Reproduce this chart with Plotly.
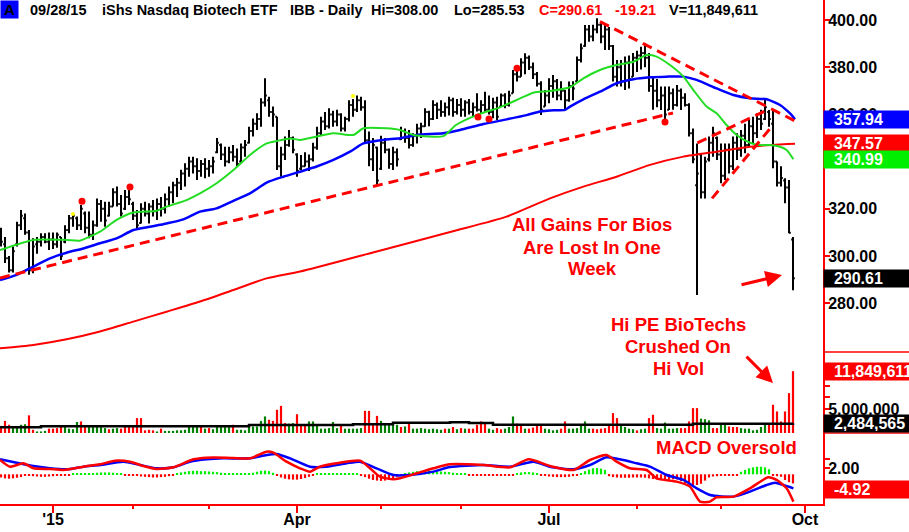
import plotly.graph_objects as go

# ---------------- data ----------------
start_idx = -13   # trading-day index of first bar (0 = Jan 2 2015)

opens = [310, 305, 299, 294, 305, 313, 316, 310, 295, 305,
         306, 308, 306, 307, 305, 308, 306, 311, 316, 316,
         313, 318, 312, 309, 313, 322, 320, 317, 321, 327,
         322, 320, 325, 322, 317, 314, 320, 318, 321, 319,
         322, 320, 324, 327, 330, 331, 335, 337, 340, 338,
         336, 339, 337, 338, 344, 347, 343, 340, 344, 342,
         340, 346, 348, 353, 356, 358, 365, 366, 361, 359,
         338, 343, 347, 350, 343, 337, 338, 340, 341, 346,
         352, 357, 355, 360, 357, 360, 354, 358, 364, 362,
         366, 363, 349, 341, 346, 337, 348, 345, 339, 344,
         349.5, 353, 350, 347, 351, 354, 355, 361, 358, 364,
         362, 361, 363, 366, 361, 364, 362, 365, 361, 363,
         362, 364, 362, 361, 365, 363.3, 368, 364, 369, 377,
         376, 382, 384, 380, 377, 373, 363.3, 368, 372, 374,
         368, 370, 366, 372, 374, 383, 389, 396, 393, 396,
         398, 393, 396, 389, 376, 380, 374, 382, 376, 384,
         385, 386, 384, 372, 370, 366, 368, 362, 369, 364,
         370, 367, 364, 352, 330, 343, 327, 341, 348, 350,
         343, 334, 345, 338, 348, 345, 351, 347, 355, 352,
         358, 358, 361, 356, 340, 331, 332, 329, 307]

highs = [312, 308, 300, 304, 314.5, 319.5, 318, 311, 307.5, 308,
         309.6, 309.6, 310, 310, 310, 308, 313, 317.4, 318, 316.7,
         321.6, 318.8, 318.8, 315, 324.4, 323.7, 323, 323, 328.7, 329.4,
         325.8, 328, 328.7, 323, 319.5, 322.3, 323, 322.3, 323.7, 324.4,
         325, 326.5, 329.4, 331.5, 333, 336.5, 339.3, 342, 342, 341.4,
         340.7, 341.4, 340.7, 342, 350, 347.7, 346.3, 346.3, 347, 345.6,
         347.7, 349.2, 354.8, 358.3, 360.5, 366.8, 375.3, 367.5, 363.3, 359,
         346.3, 350.6, 353.4, 350.6, 343.5, 342.8, 344, 343, 348, 354.8,
         359, 361, 362.6, 361.5, 362, 360.5, 359, 366, 366.5, 368,
         367.5, 366, 352.7, 350, 346.3, 351, 350, 345.6, 346.3, 345.6,
         354.8, 354, 353.4, 352, 356, 356.5, 362.6, 361.5, 366, 365,
         366, 365, 367.5, 367, 366.5, 366.8, 366, 366.5, 365, 369,
         366, 369.6, 368, 367, 367.5, 368.9, 369, 370, 378.8, 380,
         383.8, 385.9, 385, 382, 378, 374, 370.3, 375.3, 376.7, 375,
         374, 370.3, 373.9, 374, 384.5, 390, 397.9, 397.9, 398, 400.7,
         398.6, 397.9, 397, 389.4, 383, 383, 384.5, 385, 386, 387,
         388.7, 390.1, 386, 376, 375, 371.8, 371.8, 371.8, 371, 372.5,
         371, 369, 364.7, 354, 347.7, 343.5, 342, 350.6, 354.8, 350.6,
         347.7, 347.7, 347.7, 350.6, 352, 353.4, 356, 357.6, 359, 360.5,
         362, 366.8, 361.9, 361.9, 340, 338, 332.9, 332.2, 308.00]

lows = [304, 297, 293, 293, 304, 311, 309, 292, 292.7, 301,
        304, 305.4, 302.5, 303, 303.5, 298.3, 305.4, 309.6, 312.4, 311,
        311, 309.6, 307.5, 306.8, 312.4, 314.5, 312.4, 316.7, 321, 321,
        316.7, 319.5, 321.6, 315.3, 311, 313.8, 316.7, 313.8, 316.7, 315.3,
        316.7, 318, 321, 322.3, 325, 328, 329.4, 333.6, 335, 332.2,
        333.6, 332.9, 333.6, 335, 343.5, 340.7, 337.9, 339.3, 340, 337.9,
        339.3, 342.1, 347.7, 350.6, 353.4, 354.8, 363.3, 359, 354.8, 336.4,
        333.6, 340.7, 346.3, 343.5, 333.6, 336.4, 337.9, 336, 340, 345,
        351, 353.4, 354, 354.8, 355, 352.7, 352.7, 357, 359, 361,
        361.5, 347.7, 338, 336, 330, 336.4, 343.5, 337, 336.4, 337.9,
        349.2, 348, 345.6, 346.3, 347.7, 350, 354.8, 355, 357.6, 358,
        359, 359, 359.5, 359, 360, 359, 359, 360, 359, 361.2,
        360.5, 361, 360, 358.4, 357.6, 363.3, 362.6, 363.3, 369, 373.9,
        376, 377, 378.8, 375, 371.8, 359.7, 363.3, 364.7, 367, 366,
        366, 361.9, 365.4, 366, 373.9, 382, 388.7, 390.8, 391, 394.4,
        390.1, 387.3, 387.3, 373.9, 371.8, 371.8, 370.3, 371, 376, 378,
        379, 380, 369.6, 362, 363, 361.9, 357.6, 361.9, 362, 363.3,
        361.9, 363.3, 350.6, 339.3, 283.5, 324.4, 324.4, 340, 342.1, 340.7,
        330.8, 332.2, 335, 336.4, 340.7, 342.1, 343.5, 346.3, 347.7, 350,
        353.4, 357.6, 354.8, 337.2, 329.4, 329.4, 322.3, 309.6, 285.53]

closes = [306, 299, 294, 302, 313, 317, 310, 294, 304, 306,
          308, 306, 307, 305, 309, 300, 311, 316, 317, 313,
          320, 312, 309, 313, 322, 320, 315, 321, 327, 322,
          318, 325, 324, 317, 313, 320, 318, 321, 319, 322,
          320, 324, 327, 330, 331, 335, 337, 340, 338, 336,
          339, 337, 338, 340, 348, 343, 340, 344, 342, 339,
          346, 347, 353, 356, 358, 365, 368, 361, 360, 338,
          343, 347, 350, 345, 336, 338, 340, 341, 346, 352,
          357, 355, 360, 357, 360, 354, 358, 364, 362, 366,
          363, 349, 341, 347, 332, 348, 345, 339, 344, 341,
          353, 350, 347, 351, 354, 355, 361, 358, 364, 362,
          361, 363, 366, 361, 364, 362, 365, 361, 363, 362,
          364, 362, 361, 365, 359, 368, 364, 368, 377, 376,
          382, 384, 380, 377, 373, 362, 368, 372, 374, 368,
          370, 366, 372, 371, 383, 388, 396, 393, 396, 398,
          393, 396, 389, 376, 380, 374, 382, 375, 384, 385,
          386, 384, 372, 370, 366, 368, 360, 369, 364, 370,
          367, 364, 352, 341, 335, 327, 340, 348, 352, 343,
          334, 345, 338, 348, 345, 351, 347, 355, 352, 358,
          356, 363, 358, 340, 331, 333, 329, 309.82, 290.61]

# daily volume, millions of shares
volumes_m = [2.0, 2.9, 2.2, 1.8, 1.9, 2.2, 2.3, 3.9, 1.3, 1.0,
             1.0, 1.1, 1.5, 1.5, 1.6, 2.1, 1.9, 1.5, 1.4, 2.7,
             2.8, 1.9, 1.8, 2.1, 2.0, 1.8, 1.6, 1.4, 1.5, 1.6,
             1.5, 1.8, 1.9, 1.8, 3.4, 3.4, 1.2, 1.3, 1.2, 1.0,
             1.5, 1.1, 1.1, 1.1, 1.2, 1.2, 1.3, 1.8, 1.9, 2.0,
             1.9, 1.5, 1.6, 1.4, 1.9, 1.9, 1.8, 1.9, 2.2, 1.3,
             1.3, 1.2, 1.8, 1.9, 1.9, 2.9, 3.7, 3.1, 2.9, 4.9,
             5.6, 2.5, 2.4, 2.5, 4.1, 2.1, 2.0, 2.8, 2.8, 2.1,
             1.5, 1.5, 1.6, 2.7, 1.6, 2.1, 1.5, 1.5, 1.5, 1.5,
             1.6, 4.7, 4.7, 2.2, 3.8, 2.9, 2.4, 2.3, 2.2, 2.2,
             1.8, 1.9, 2.5, 1.5, 1.5, 1.6, 1.5, 1.4, 1.5, 1.4,
             1.3, 1.5, 1.5, 1.8, 1.4, 1.6, 1.5, 1.5, 1.5, 2.2,
             2.8, 2.5, 1.5, 1.3, 1.6, 1.4, 1.5, 1.8, 3.7, 2.4,
             2.2, 1.5, 1.5, 1.7, 2.0, 2.2, 1.5, 1.4, 1.2, 1.3,
             1.5, 2.8, 1.5, 1.5, 1.6, 2.2, 2.8, 1.5, 1.5, 1.4,
             1.5, 1.6, 2.0, 4.3, 3.4, 2.2, 1.8, 1.5, 1.4, 1.2,
             1.4, 1.5, 3.4, 4.0, 1.6, 1.5, 2.6, 1.5, 1.5, 1.6,
             1.6, 1.6, 2.8, 5.2, 5.2, 3.3, 3.2, 3.0, 1.6, 1.6,
             2.4, 2.2, 1.9, 1.8, 1.8, 1.6, 1.5, 1.5, 1.2, 1.3,
             1.8, 2.5, 2.4, 5.8, 4.6, 2.8, 4.6, 7.9, 11.849611]

# volume bar colour as seen: r = down day, g = up day
vol_dir = ("rrrggggrrg" "ggrrrrgggg" "rrgggggrgg" "rrrrrrrrrg" "rggggggggg"
           "rgrgggggrg" "gggggggrrr" "rrggrrrggg" "gggggrgggg" "grrrrggggg"
           "rgrggggggg" "grgrgrgrrr" "rrggrrgggr" "rgrrrrgggg" "rrggggggrr"
           "rrrrrggggr" "ggrrgggggg" "rrrrrgggrr" "ggrrrggggg" "ggrrrrrrr")

macd_hist = [-1.0, -1.3, -1.4, -1.3, -1.1, -0.9, -0.5, -0.4, -0.6, -0.7,
             -0.8, -0.8, -0.7, -0.6, -0.5, -0.4, -0.3, -0.3, 0.3, 0.3,
             0.3, 0.3, 0.3, 0.4, 0.5, 0.6, 0.6, 0.6, 0.5, 0.4,
             0.3, -0.3, -0.3, -0.4, -0.5, -0.7, -0.8, -0.9, -1.0, -1.0,
             -0.9, -0.8, -0.6, -0.4, 0.3, 0.6, 0.8, 1.0, 1.1, 1.1,
             1.0, 1.0, 0.9, 0.8, 0.7, 0.5, 0.4, 0.3, 0.3, 0.3,
             0.3, 0.3, 0.4, 0.5, 0.8, 1.1, 1.2, 1.0, 0.5, -0.4,
             -1.0, -1.4, -1.6, -1.7, -1.7, -1.5, -1.2, -0.8, -0.4, 0.3,
             0.3, 0.3, 0.3, 0.3, 0.3, 0.3, 0.3, 0.3, 0.3, 0.3,
             -0.3, -0.9, -1.4, -1.8, -2.0, -2.1, -2.0, -1.8, -1.4, -0.9,
             -0.5, 0.3, 0.6, 0.8, 1.0, 1.1, 1.1, 1.1, 1.0, 1.0,
             0.9, 0.8, 0.7, 0.5, 0.4, 0.4, 0.3, -0.3, -0.3, -0.3,
             -0.3, -0.3, -0.3, -0.3, -0.3, -0.3, -0.3, -0.3, -0.3, 0.4,
             0.6, 0.7, 0.7, 0.6, 0.4, -0.3, -0.5, -0.7, -0.8, -0.9,
             -0.9, -0.9, -0.8, -0.6, -0.4, 0.4, 1.0, 1.5, 1.9, 2.0,
             1.8, 1.4, -0.6, -0.9, -1.0, -1.1, -1.1, -1.1, -1.0, -1.0,
             -1.0, -1.1, -1.3, -1.5, -1.6, -1.6, -1.7, -1.7, -1.6, -1.6,
             -2.2, -2.8, -3.2, -3.4, -3.4, -3.0, -2.0, -1.0, -0.7, -0.6,
             -0.5, -0.5, -0.4, -0.4, -0.3, 0.8, 1.4, 1.9, 2.2, 2.4,
             2.4, 2.2, 1.6, -0.5, -0.6, -0.8, -1.8, -2.5, -2.9]

# moving averages read at points along the curves (x = trading-day index)
ma_fast_x = [-13.25, -4.9, 3.4, 6.7, 11.75, 15.9, 20.1, 25.9, 28.4, 33.4, 36.75, 40.9, 45.1,
             49.25, 53.4, 55.9, 59.25, 61.75, 70.1, 75.1, 77.6, 83.4, 86.75, 90.1, 97.6,
             100.75, 105.9, 111.75, 115.9, 120.1, 124.25, 129.25, 132.6, 136.75, 140.9,
             145.1, 148.4, 150.9, 154.25, 157.6, 160.1, 163.4, 165.9, 168.4, 170.9, 174.25,
             176.75, 179.25, 181.75, 183.4, 185.1]
ma_fast_y = [302.5, 306.8, 306.8, 306.5, 310.3, 315.3, 318.4, 319.2, 320.9, 323.7, 326.5, 330.8,
             336.4, 342.8, 347.7, 348.7, 349.8, 349.2, 352, 351.3, 354.1, 354.1, 353.4, 351.3,
             350.8, 355.5, 359.7, 363, 366.1, 369.2, 369.9, 371.5, 375.3, 378.8, 380.9, 382.3,
             385.2, 384.5, 380.9, 376, 370.3, 363.3, 360.5, 355.5, 351.3, 348, 347, 347, 346.3,
             344.9, 340.99]

ma_mid_x = [-13.25, -9.1, -4.9, -0.75, 3.4, 7.6, 11.75, 15.9, 20.1, 24.25, 28.4, 32.6, 36.75,
            40.9, 45.1, 49.25, 53.4, 57.6, 61.75, 65.9, 70.1, 74.25, 77.6, 82.6, 86.75, 90.9,
            97.6, 101.75, 107.6, 113.4, 118.4, 121.75, 124.25, 128, 129.25, 132.6, 136.75,
            140.9, 145.1, 149.25, 153.4, 157.6, 160.9, 165.9, 170.1, 174.25, 178.4, 181.75,
            184.25, 185.5]
ma_mid_y = [289.8, 292, 295.5, 299, 301.4, 303.2, 305.4, 307.5, 311, 312.4, 313.8, 315.5, 318.8,
            320.2, 323.4, 326.5, 331.1, 333.6, 335.7, 337.9, 340.7, 344.2, 347.7, 349.2, 349.9,
            351.3, 352, 353.4, 355.9, 357.9, 359.7, 361.2, 361.7, 361.9, 363.3, 366.4, 369.6,
            373.2, 374.9, 375.7, 376, 376, 374.6, 371, 368.2, 366.8, 366.4, 364, 360.4, 357.94]

ma_slow_x = [-13.25, -4.9, 3.4, 11.75, 20.1, 28.4, 36.75, 45.1, 53.4, 61.75, 80, 100, 113.4,
             124.25, 132.6, 140.9, 149.25, 157.6, 165.9, 174.25, 182.6, 185.5]
ma_slow_y = [260.9, 262.3, 264.7, 268, 272.2, 276.4, 280.7, 285.6, 290.5, 293.4, 301.5, 310.5,
             316.7, 324.4, 329.4, 333.6, 338.6, 342.1, 344.2, 346.3, 347.4, 347.57]

avg_vol_x = [-13.25, -3.5, -3, 30, 49, 75, 85, 99.25, 104, 110, 150, 160, 175, 185]
avg_vol_m = [1.75, 1.75, 1.95, 1.95, 2.15, 2.3, 2.55, 2.64, 2.5, 2.2, 2.2, 2.4, 2.4, 2.484565]

macd_x = [-13.25, -10.75, -7.4, -4.9, -0.75, 2.6, 7.6, 11.75, 15.5, 19.25, 22.6, 25.9, 30.1,
          35.1, 38.4, 43.4, 49.25, 53.4, 55.1, 58.4, 61.75, 64.25, 66.75, 71.75, 76.75, 79.25,
          81.75, 85.1, 86.75, 90.9, 95.1, 99.25, 107.6, 114.25, 118.9, 124.25, 130.1, 134.25,
          138.4, 140.9, 144.25, 148.4, 150.9, 155.9, 159.25, 161.75, 164.25, 165.9, 170.1,
          174.25, 178.8, 180.9, 183.4, 185.1]
macd_y = [4.54, 2.42, 3.48, 1.9, 1.69, 1.37, 2.42, 3.16, 4.33, 4.0, 2.63, 1.69, 2.21, 4.75, 5.28,
          5.28, 5.07, 7.19, 6.87, 4.0, 1.9, 0.84, 2.42, 3.69, 4.33, 1.9, -0.75, -1.59, -1.27,
          0.31, 1.9, 3.2, 2.95, 2.21, 4.75, 2.63, 1.37, 4.54, 6.13, 4.0, 1.9, 1.37, -1.27, -2.33,
          -3.92, -8.68, -8.68, -7.3, -7.09, -4.45, -0.96, -1.8, -4.45, -8.68]

signal_x = [-13.25, -9.1, -4.9, -0.75, 3.4, 7.6, 11.75, 17.6, 21.75, 25.9, 30.1, 34.25, 38.4,
            42.6, 49.25, 53.4, 55.9, 59.25, 64.25, 68.4, 73.4, 76.75, 80.9, 85.1, 89.25, 95.1,
            99.25, 107.6, 114.25, 120.1, 124.25, 130.1, 134.25, 138.4, 141.75, 145.9, 149.25,
            153.4, 157.6, 160.9, 164.25, 170.1, 174.25, 178.4, 180.5, 182.6, 185.1]
signal_y = [4.75, 3.69, 2.63, 1.9, 1.58, 2.42, 2.95, 4.0, 2.95, 1.9, 2.21, 4.0, 4.75, 5.07, 5.07,
            6.13, 6.44, 5.07, 2.42, 2.42, 3.48, 4.0, 1.9, -0.22, -0.22, 0.84, 2.3, 2.95, 2.42,
            4.0, 2.42, 1.58, 2.95, 5.39, 4.75, 3.48, 2.42, -0.22, -1.8, -4.45, -6.56, -7.09,
            -5.5, -3.39, -2.65, -3.39, -4.45]

# hand-drawn trendlines (x = trading-day index, y = price)
trend_lines = [
    ([-13.25, 155], [290.7, 360.6]),
    ([136.75, 186], [399.3, 356.8]),
    ([161.1, 178.5], [347.9, 361.8]),
    ([164.75, 180], [324.4, 355.5]),
]
red_dot_x = [7.25, 19.25, 106.25, 109, 116, 153]
red_dot_y = [323.2, 329.2, 358.9, 358.0, 379.6, 356.8]
yellow_dot_x = [5, 75]
yellow_dot_y = [317.8, 367.8]

month_tick_idx = [0, 20, 39, 61, 82, 102, 124, 146, 167, 188]
quarter_tick_idx = [0, 61, 124, 188]
quarter_tick_text = ["'15", "Apr", "Jul", "Oct"]
price_ticks = [280, 300, 320, 340, 360, 380, 400]

n = len(closes)
for arr in (opens, highs, lows, volumes_m, macd_hist):
    assert len(arr) == n, len(arr)
assert len(vol_dir) == n, len(vol_dir)
idx = list(range(start_idx, start_idx + n))

# ---------------- figure ----------------
FONT = "Liberation Sans, Arial, sans-serif"
RED = "#ff0000"
fig = go.Figure()

fig.add_trace(go.Ohlc(x=idx, open=opens, high=highs, low=lows, close=closes,
                      increasing=dict(line=dict(color="black", width=2)),
                      decreasing=dict(line=dict(color="black", width=2)),
                      tickwidth=0.45, xaxis="x", yaxis="y", hoverinfo="skip",
                      showlegend=False))

fig.add_trace(go.Scatter(x=ma_slow_x, y=ma_slow_y, mode="lines",
                         line=dict(color=RED, width=2, shape="spline", smoothing=0.6),
                         yaxis="y", showlegend=False, hoverinfo="skip"))
fig.add_trace(go.Scatter(x=ma_mid_x, y=ma_mid_y, mode="lines",
                         line=dict(color="#0000ff", width=2.5, shape="spline", smoothing=0.6),
                         yaxis="y", showlegend=False, hoverinfo="skip"))
fig.add_trace(go.Scatter(x=ma_fast_x, y=ma_fast_y, mode="lines",
                         line=dict(color="#22dd22", width=2, shape="spline", smoothing=0.6),
                         yaxis="y", showlegend=False, hoverinfo="skip"))
for tx, ty in trend_lines:
    fig.add_trace(go.Scatter(x=tx, y=ty, mode="lines",
                             line=dict(color=RED, width=3, dash="10px,6px"),
                             yaxis="y", showlegend=False, hoverinfo="skip"))
fig.add_trace(go.Scatter(x=red_dot_x, y=red_dot_y, mode="markers",
                         marker=dict(color=RED, size=7), yaxis="y",
                         showlegend=False, hoverinfo="skip"))
fig.add_trace(go.Scatter(x=yellow_dot_x, y=yellow_dot_y, mode="markers",
                         marker=dict(color="#ffff00", size=4), yaxis="y",
                         showlegend=False, hoverinfo="skip"))

# volume
vol_colors = [RED if d == "r" else "#008000" for d in vol_dir]
fig.add_trace(go.Bar(x=idx, y=[v * 1e6 for v in volumes_m],
                     marker=dict(color=vol_colors, line=dict(width=0)),
                     width=0.55, yaxis="y2", showlegend=False, hoverinfo="skip"))
fig.add_trace(go.Scatter(x=avg_vol_x, y=[v * 1e6 for v in avg_vol_m], mode="lines",
                         line=dict(color="black", width=2.5, shape="hv"), yaxis="y2",
                         showlegend=False, hoverinfo="skip"))

# MACD
hist_colors = ["#00ee00" if h > 0 else RED for h in macd_hist]
fig.add_trace(go.Bar(x=idx, y=macd_hist, marker=dict(color=hist_colors, line=dict(width=0)),
                     width=0.55, yaxis="y3", showlegend=False, hoverinfo="skip"))
fig.add_trace(go.Scatter(x=signal_x, y=signal_y, mode="lines",
                         line=dict(color="#0000ff", width=2.5, shape="spline", smoothing=0.6),
                         yaxis="y3", showlegend=False, hoverinfo="skip"))
fig.add_trace(go.Scatter(x=macd_x, y=macd_y, mode="lines",
                         line=dict(color=RED, width=2.5, shape="spline", smoothing=0.6),
                         yaxis="y3", showlegend=False, hoverinfo="skip"))

W, H = 909, 532
PLOT_W, PLOT_H = 823, 504


def px(x):
    return x / PLOT_W


def py(y):
    return (PLOT_H - y) / PLOT_H


tickfont = dict(family=FONT, size=16, color="black", weight="bold")
yax_common = dict(side="right", anchor="x", showline=True, linecolor=RED, linewidth=2,
                  ticks="outside", ticklen=5, tickcolor=RED, tickwidth=1.5,
                  ticklabelstandoff=-5,
                  showgrid=False, zeroline=False, tickfont=tickfont, automargin=False,
                  fixedrange=True)

fig.update_layout(
    width=W, height=H, margin=dict(l=0, r=W - PLOT_W, t=0, b=H - PLOT_H),
    paper_bgcolor="white", plot_bgcolor="white", barmode="overlay",
    showlegend=False, hovermode=False,
    xaxis=dict(domain=[0, 1], range=[-13.25, 192.5], anchor="y3",
               showline=True, linecolor=RED, linewidth=2, showgrid=False, zeroline=False,
               tickmode="array", tickvals=quarter_tick_idx, ticktext=quarter_tick_text,
               ticks="outside", ticklen=7, tickcolor=RED, tickwidth=1.5,
               ticklabelstandoff=-7,
               minor=dict(tickmode="array", tickvals=month_tick_idx, ticks="outside",
                          ticklen=3, tickcolor=RED, tickwidth=1.5),
               tickfont=tickfont, rangeslider=dict(visible=False), automargin=False,
               fixedrange=True),
    yaxis=dict(domain=[py(352), 1], range=[259.32, 408.47], tickmode="array",
               tickvals=price_ticks, ticktext=["%.2f" % t for t in price_ticks], **yax_common),
    yaxis2=dict(domain=[py(433), py(352)], range=[0.72e6, 15.3e6], tickmode="array",
                tickvals=[5e6, 7.2e6, 9.2e6], ticktext=["5,000,000", "", ""], **yax_common),
    yaxis3=dict(domain=[0, py(433)], range=[-9.43, 13.11], tickmode="array",
                tickvals=[2, 4.86], ticktext=["2.00", ""], **yax_common),
)

# separators in the right-hand scale column
for yy in (352, 433):
    fig.add_shape(type="line", xref="paper", yref="paper", x0=1, x1=1.2, y0=py(yy), y1=py(yy),
                  line=dict(color=RED, width=1.5))

ann = []


def label_box(text, yref, yval, color):
    ann.append(dict(xref="paper", x=1, xanchor="left", yref=yref, y=yval, yanchor="middle",
                    text="\u00a0\u00a0" + text, showarrow=False, bgcolor=color, align="left",
                    width=84, height=15, borderpad=1,
                    font=dict(family=FONT, size=16, color="white", weight="bold")))


label_box("357.94", "y", 357.94, "#0000ff")
label_box("347.57", "y", 347.57, RED)
label_box("340.99", "y", 340.99, "#00ee00")
label_box("290.61", "y", 290.61, "black")
label_box("11,849,611", "y2", 11.849611e6, RED)
label_box("2,484,565", "y2", 2.484565e6, "black")
label_box("-4.92", "y3", -4.92, RED)

# header line
ann.append(dict(xref="paper", x=0, xanchor="left", yref="paper", y=1, yanchor="top",
                text="A", showarrow=False, bgcolor="#0000ff", width=15, height=15, borderpad=1,
                font=dict(family=FONT, size=15, color="black", weight="bold")))
header = [(28, "09/28/15", "black"), (100, "iShs Nasdaq Biotech ETF", "black"),
          (288, "IBB - Daily", "black"), (369, "Hi=308.00", "black"),
          (452, "Lo=285.53", "black"), (537, "C=290.61", RED), (613, "-19.21", RED),
          (667, "V=11,849,611", "black")]
for hx, htxt, hcol in header:
    ann.append(dict(xref="paper", x=px(hx), xanchor="left", yref="paper", y=py(10),
                    yanchor="middle", text=htxt, showarrow=False,
                    font=dict(family=FONT, size=14.5, color=hcol, weight="bold")))

notes = [(592, 225, "All Gains For Bios"), (592, 247, "Are Lost In One"), (592, 268, "Week"),
         (678, 325, "Hi PE BioTechs"), (678, 346, "Crushed On"), (678, 368, "Hi Vol"),
         (726, 447, "MACD Oversold")]
for nx, ny, ntxt in notes:
    ann.append(dict(xref="paper", x=px(nx), xanchor="center", yref="paper", y=py(ny),
                    yanchor="middle", text=ntxt, showarrow=False,
                    font=dict(family=FONT, size=18.5, color=RED, weight="bold")))

# arrows
ann.append(dict(xref="x", yref="y", x=182.25, y=291.9, ax=-42, ay=10, text="",
                showarrow=True, arrowhead=2, arrowsize=1.1, arrowwidth=3, arrowcolor=RED))
ann.append(dict(xref="x", yref="y2", x=180, y=9.7e6, ax=-28, ay=-28, text="",
                showarrow=True, arrowhead=2, arrowsize=1.1, arrowwidth=3, arrowcolor=RED))

fig.update_layout(annotations=ann)
fig.write_html("out.html")
